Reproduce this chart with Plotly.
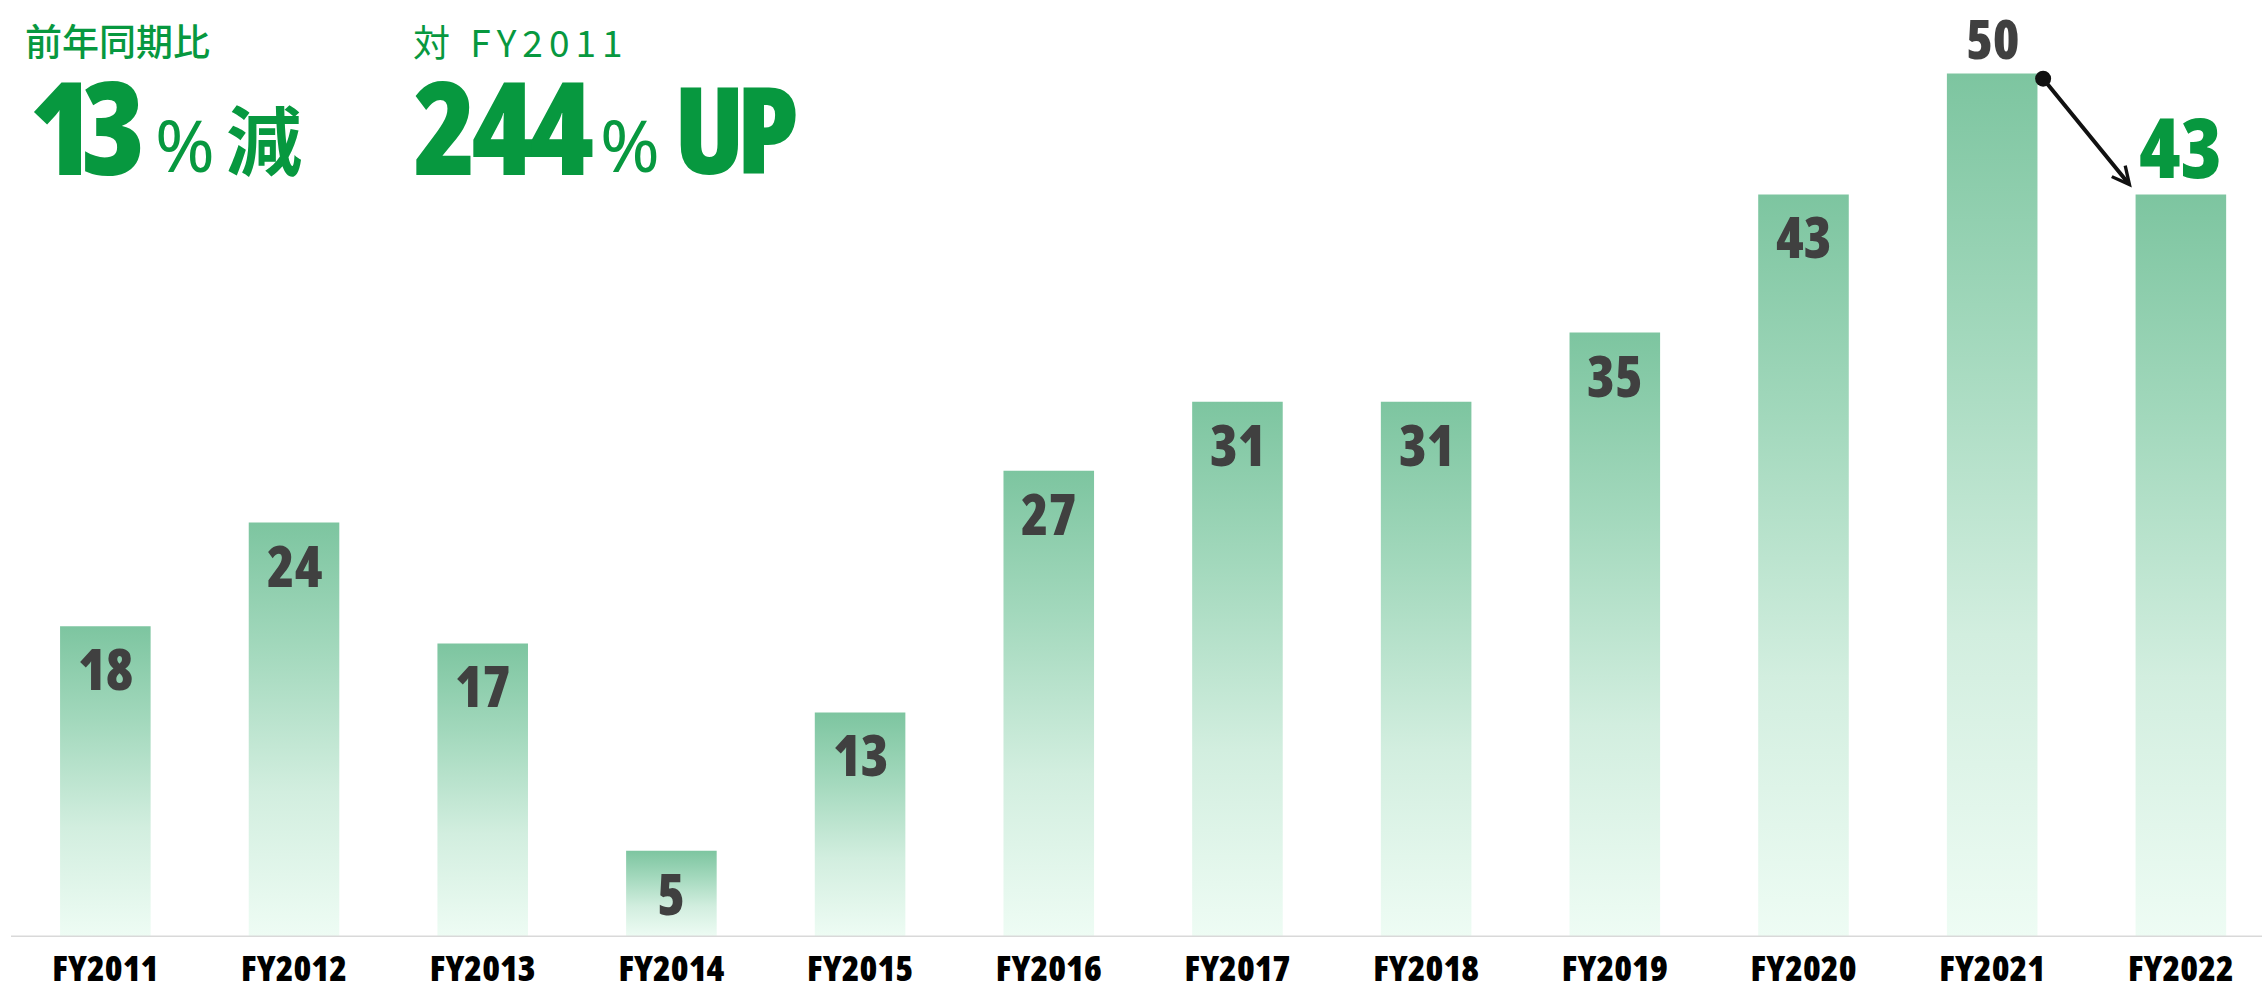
import plotly.graph_objects as go

# Fiscal years and values
categories = ["FY2011", "FY2012", "FY2013", "FY2014", "FY2015", "FY2016",
              "FY2017", "FY2018", "FY2019", "FY2020", "FY2021", "FY2022"]
values = [18, 24, 17, 5, 13, 27, 31, 31, 35, 43, 50, 43]

# Headline figures
yoy_label = "前年同期比"
yoy_value = "13"
yoy_word = "減"
base_label = "対 FY2011"
base_value = "244"
base_word = "UP"

W, H = 2262, 994
ML, MB = 11, 57
PLOT_W, PLOT_H = W - ML, H - MB

GREEN = "#07983F"
LABEL_GRAY = "#404040"
HEAVY = "Open Sans, Roboto, sans-serif"
CJK = "Noto Sans CJK JP, Noto Sans, sans-serif"
LATIN = "Noto Sans, sans-serif"

bar_w = 0.48
fill_scale = [[0.0, "#EEFCF4"], [0.35, "#D2EEDF"], [0.7, "#A2D8BC"], [1.0, "#7DC5A0"]]


def cond(text, spacing=0):
    """Wrap text so it renders in the condensed width of the font."""
    ls = f";letter-spacing:{spacing}px" if spacing else ""
    return f"<span style='font-stretch:condensed{ls}'>{text}</span>"


fig = go.Figure()

# Bars as filled rectangles with a vertical gradient
for i, v in enumerate(values):
    x0, x1 = i - bar_w / 2, i + bar_w / 2
    fig.add_trace(go.Scatter(
        x=[x0, x1, x1, x0, x0], y=[0, 0, v, v, 0],
        mode="lines", fill="toself", line=dict(width=0),
        fillgradient=dict(type="vertical", colorscale=fill_scale),
        hoverinfo="skip", showlegend=False,
    ))

annotations = []
last, prev = len(values) - 1, len(values) - 2

# Value labels
for i, v in enumerate(values):
    if i == last:
        annotations.append(dict(x=i, y=v, text=cond(v), showarrow=False,
                                yanchor="middle", yshift=49,
                                font=dict(family=HEAVY, size=84, color=GREEN, weight=800)))
    elif i == prev:
        annotations.append(dict(x=i, y=v, text=cond(v), showarrow=False,
                                yanchor="middle", yshift=36,
                                font=dict(family=HEAVY, size=54, color=LABEL_GRAY, weight=800)))
    else:
        annotations.append(dict(x=i, y=v, text=cond(v), showarrow=False,
                                yanchor="middle", yshift=-42,
                                font=dict(family=HEAVY, size=56, color=LABEL_GRAY, weight=800)))

# Arrow from the previous year's bar to the latest one
tail_x, tail_y = prev + bar_w / 2 + 0.03, values[prev] - 0.3
head_x, head_y = last - bar_w / 2 - 0.02, values[last] + 0.4
annotations.append(dict(x=head_x, y=head_y, ax=tail_x, ay=tail_y,
                        xref="x", yref="y", axref="x", ayref="y",
                        text="", showarrow=True, arrowhead=5, arrowsize=0.85,
                        arrowwidth=4, arrowcolor="#111111"))
fig.add_trace(go.Scatter(x=[tail_x], y=[tail_y], mode="markers",
                         marker=dict(size=16, color="#111111"),
                         hoverinfo="skip", showlegend=False))


def px(x, y):
    """Convert pixel position in the page to paper coordinates."""
    return (x - ML) / PLOT_W, (PLOT_H - y) / PLOT_H


def head(text, x, y, size, family, weight="normal"):
    xp, yp = px(x, y)
    annotations.append(dict(xref="paper", yref="paper", x=xp, y=yp, text=text,
                            showarrow=False, xanchor="left", yanchor="middle",
                            font=dict(family=family, size=size, color=GREEN, weight=weight)))


head(yoy_label, 23, 40, 37, CJK, 500)
head(cond(yoy_value, -12), 27, 125, 130, HEAVY, 800)
head("%", 153, 144, 72, LATIN, 400)
head(yoy_word, 224, 137, 76, CJK, "bold")

head(f"<span style='letter-spacing:6px'>{base_label}</span>", 411, 41, 37, CJK, 400)
head(cond(base_value, -6), 411, 125, 130, HEAVY, 800)
head("%", 598, 144, 72, LATIN, 400)
head(cond(base_word, -8), 672, 128, 120, HEAVY, 800)

fig.update_layout(
    width=W, height=H,
    margin=dict(l=ML, r=0, t=0, b=MB),
    paper_bgcolor="white", plot_bgcolor="white",
    annotations=annotations,
    shapes=[dict(type="line", xref="paper", yref="y", x0=0, x1=1, y0=0, y1=0,
                 line=dict(color="#D9D9D9", width=3), layer="above")],
    xaxis=dict(range=[-0.5, 11.43], tickmode="array",
               tickvals=list(range(len(categories))),
               ticktext=[cond(c) for c in categories],
               showgrid=False, zeroline=False, showline=False, ticks="",
               ticklabelstandoff=7, automargin=False,
               tickfont=dict(family=HEAVY, size=36, color="#000000", weight=800)),
    yaxis=dict(range=[0, PLOT_H / 17.27], visible=False, showgrid=False,
               zeroline=False, automargin=False),
)

fig.write_html("out.html")
